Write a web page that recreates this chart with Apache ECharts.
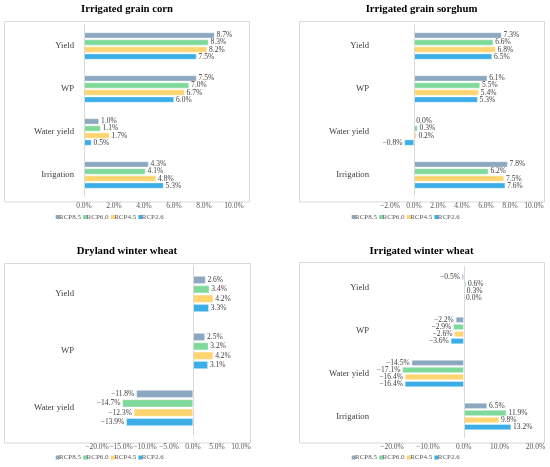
<!DOCTYPE html>
<html>
<head>
<meta charset="utf-8">
<script src="https://cdn.jsdelivr.net/npm/echarts@6/dist/echarts.min.js"></script>
<style>
html,body{margin:0;padding:0;background:#fff;}
#chart{width:550px;height:467px;}
</style>
</head>
<body>
<div id="chart"></div>
<script>
// ---------- data ----------
const scenarios = ['RCP8.5', 'RCP6.0', 'RCP4.5', 'RCP2.6'];
const colors = ['#8ca8c0', '#7fd99b', '#ffd572', '#3caee7'];

const titles = ['Irrigated grain corn', 'Irrigated grain sorghum', 'Dryland winter wheat', 'Irrigated winter wheat'];

const cats4 = ['Yield', 'WP', 'Water yield', 'Irrigation'];
const cats3 = ['Yield', 'WP', 'Water yield'];

// Irrigated grain corn
const corn85 = [8.7, 7.5, 1.0, 4.3];
const corn60 = [8.3, 7.0, 1.1, 4.1];
const corn45 = [8.2, 6.7, 1.7, 4.8];
const corn26 = [7.5, 6.0, 0.5, 5.3];

// Irrigated grain sorghum
const sorg85 = [7.3, 6.1, 0.0, 7.8];
const sorg60 = [6.6, 5.5, 0.3, 6.2];
const sorg45 = [6.8, 5.4, 0.2, 7.5];
const sorg26 = [6.5, 5.3, -0.8, 7.6];

// Dryland winter wheat
const dww85 = [2.6, 2.5, -11.8];
const dww60 = [3.4, 3.2, -14.7];
const dww45 = [4.2, 4.2, -12.3];
const dww26 = [3.3, 3.1, -13.9];

// Irrigated winter wheat
const iww85 = [-0.5, -2.2, -14.5, 6.5];
const iww60 = [0.6, -2.9, -17.1, 11.9];
const iww45 = [0.3, -2.6, -16.4, 9.8];
const iww26 = [0.0, -3.6, -16.4, 13.2];

// axis ranges [min, max, interval]
const cornAxis = [0, 10, 2];
const sorgAxis = [-2, 10, 2];
const dwwAxis = [-20, 10, 5];
const iwwAxis = [-20, 20, 10];

// ---------- layout ----------
const panels = [
  {cats: cats4, series: [corn85, corn60, corn45, corn26], axis: cornAxis,
   grid: {left: 84, top: 24.5, width: 150, height: 172}, labelMargin: 10, xMargin: 6,
   box: [4.5, 21.5, 245, 180.5], title: [127, 9], legend: [55.7, 213.5]},
  {cats: cats4, series: [sorg85, sorg60, sorg45, sorg26], axis: sorgAxis,
   grid: {left: 390, top: 24.5, width: 144, height: 172}, labelMargin: 21, xMargin: 6,
   box: [299.5, 21.5, 245, 180.5], title: [421.5, 9], legend: [351.7, 213.5]},
  {cats: cats3, series: [dww85, dww60, dww45, dww26], axis: dwwAxis,
   grid: {left: 97, top: 265.5, width: 144, height: 171}, labelMargin: 23, xMargin: 6.5,
   box: [4.5, 263.5, 246, 179.5], title: [127, 251], legend: [55.7, 454]},
  {cats: cats4, series: [iww85, iww60, iww45, iww26], axis: iwwAxis,
   grid: {left: 392, top: 266, width: 143.5, height: 172}, labelMargin: 23, xMargin: 5,
   box: [299.5, 262.5, 245, 180.5], title: [421.5, 251], legend: [351.7, 454]}
];

const SERIF = '"Liberation Serif", "Times New Roman", serif';
function fmtPct(v) {
  const s = Math.abs(v).toFixed(1) + '%';
  return (v < 0 ? '\u2212' : '') + s;
}

const grids = [], xAxes = [], yAxes = [], series = [], legends = [], graphics = [];

panels.forEach((p, pi) => {
  grids.push(Object.assign({containLabel: false, outerBoundsMode: 'none'}, p.grid));
  xAxes.push({
    type: 'value', gridIndex: pi,
    min: p.axis[0], max: p.axis[1], interval: p.axis[2],
    axisLine: {show: false}, axisTick: {show: false}, splitLine: {show: false},
    axisLabel: {formatter: fmtPct, fontFamily: SERIF, fontSize: 7.5, color: '#595959', margin: p.xMargin, hideOverlap: false}
  });
  yAxes.push({
    type: 'category', gridIndex: pi, data: p.cats, inverse: true,
    axisLine: {show: false}, axisTick: {show: false}, splitLine: {show: false},
    axisLabel: {fontFamily: SERIF, fontSize: 8.7, color: '#404040', margin: p.labelMargin}
  });
  p.series.forEach((arr, si) => {
    const s = {
      type: 'bar', name: scenarios[si], xAxisIndex: pi, yAxisIndex: pi,
      data: arr,
      barGap: '20%', barCategoryGap: '37%',
      itemStyle: {color: colors[si], borderColor: 'rgba(255,255,255,0.8)', borderWidth: 0.5},
      label: {show: true, position: 'outside', distance: 2, formatter: (q) => fmtPct(q.value),
              fontFamily: SERIF, fontSize: 7.5, color: '#404040'}
    };
    if (si === 0) {
      s.markLine = {
        silent: true, symbol: ['none', 'none'], label: {show: false},
        lineStyle: {color: '#d9d9d9', type: 'solid', width: 1},
        data: [{xAxis: 0}]
      };
    }
    series.push(s);
  });
  legends.push({
    left: p.legend[0], top: p.legend[1], orient: 'horizontal', padding: 0,
    icon: 'rect', itemWidth: 4, itemHeight: 4, itemGap: 2.3,
    itemStyle: {borderWidth: 0, borderColor: 'transparent'},
    data: scenarios,
    textStyle: {fontFamily: SERIF, fontSize: 7, color: '#595959', padding: [0, 0, 0, -5.7]}
  });
  graphics.push({
    type: 'rect', silent: true, z: -1,
    shape: {x: p.box[0], y: p.box[1], width: p.box[2], height: p.box[3]},
    style: {fill: 'none', stroke: '#d9d9d9', lineWidth: 1}
  });
  graphics.push({
    type: 'text', silent: true, x: p.title[0], y: p.title[1],
    style: {text: titles[pi], align: 'center', verticalAlign: 'middle',
            font: 'bold 10.7px ' + SERIF, fill: '#000'}
  });
});

const chart = echarts.init(document.getElementById('chart'), null, {renderer: 'canvas'});
chart.setOption({
  animation: false,
  backgroundColor: '#fff',
  grid: grids, xAxis: xAxes, yAxis: yAxes, series: series,
  legend: legends, graphic: graphics
});
</script>
</body>
</html>
